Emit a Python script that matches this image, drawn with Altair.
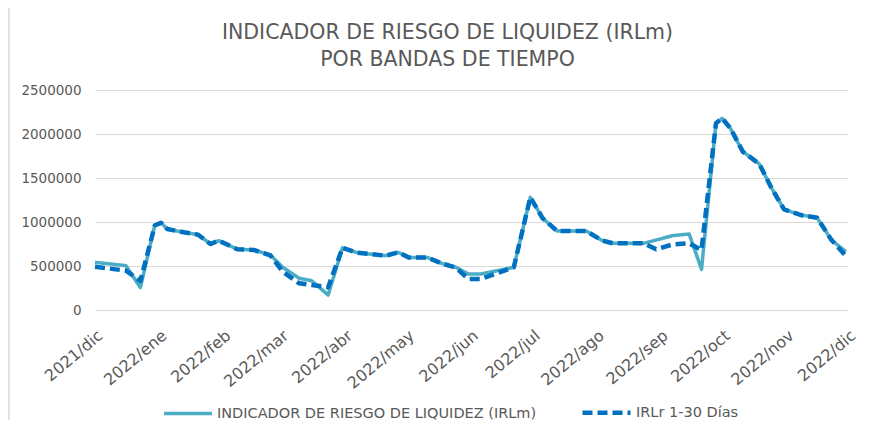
import altair as alt
import pandas as pd

DATES = [
    "2021-12-01", "2021-12-16", "2021-12-23", "2021-12-30", "2022-01-02",
    "2022-01-05", "2022-01-13", "2022-01-20", "2022-01-26", "2022-01-30",
    "2022-02-08", "2022-02-16", "2022-02-24", "2022-03-02", "2022-03-10",
    "2022-03-16", "2022-03-24", "2022-03-31", "2022-04-07", "2022-04-13",
    "2022-04-21", "2022-04-27", "2022-05-02", "2022-05-11", "2022-05-18",
    "2022-05-25", "2022-05-31", "2022-06-06", "2022-06-22", "2022-06-30",
    "2022-07-06", "2022-07-13", "2022-07-27", "2022-08-04", "2022-08-09",
    "2022-08-24", "2022-08-30", "2022-09-07", "2022-09-15", "2022-09-21",
    "2022-09-28", "2022-10-01", "2022-10-05", "2022-10-11", "2022-10-19",
    "2022-10-25", "2022-10-31", "2022-11-08", "2022-11-16", "2022-11-23",
    "2022-11-30",
]
IRLM = [
    542000, 504000, 254000, 966000, 992000,
    920000, 883000, 856000, 750000, 788000,
    690000, 682000, 625000, 485000, 360000,
    333000, 170000, 708000, 651000, 636000,
    617000, 655000, 598000, 598000, 530000,
    485000, 409000, 409000, 485000, 1280000,
    1042000, 898000, 898000, 788000, 758000,
    758000, 795000, 845000, 864000, 462000,
    2122000, 2178000, 2065000, 1800000, 1660000,
    1383000, 1144000, 1080000, 1049000, 795000,
    663000,
]
IRLR = [
    492000, 447000, 330000, 960000, 992000,
    920000, 883000, 856000, 750000, 788000,
    690000, 682000, 620000, 435000, 303000,
    284000, 258000, 708000, 651000, 636000,
    617000, 655000, 598000, 598000, 530000,
    480000, 352000, 352000, 485000, 1280000,
    1042000, 898000, 898000, 788000, 758000,
    758000, 690000, 745000, 758000, 682000,
    2122000, 2178000, 2065000, 1800000, 1660000,
    1383000, 1144000, 1080000, 1049000, 795000,
    614000,
]
SERIES = ["INDICADOR DE RIESGO DE LIQUIDEZ (IRLm)", "IRLr 1-30 Días"]
COLORS = ["#4BACC6", "#0070C0"]
TITLE = ["INDICADOR DE RIESGO DE LIQUIDEZ (IRLm)", "POR BANDAS DE TIEMPO"]
MONTHS_ES = ["ene", "feb", "mar", "abr", "may", "jun", "jul", "ago", "sep", "oct", "nov", "dic"]
TICK_MONTHS = [(2021, 12)] + [(2022, m) for m in range(1, 13)]
Y_TICKS = [0, 500000, 1000000, 1500000, 2000000, 2500000]

FONT = "DejaVu Sans"
GRAY = "#595959"
GRID = "#D9D9D9"

n = len(DATES)
df = pd.DataFrame({
    "fecha": DATES + DATES,
    "valor": IRLM + IRLR,
    "serie": [SERIES[0]] * n + [SERIES[1]] * n,
})

legend = alt.Legend(
    orient="none", legendX=67, legendY=296, direction="horizontal", title=None,
    symbolType="stroke", symbolSize=2304, symbolStrokeWidth=4,
    labelFont=FONT, labelFontSize=14.5, labelColor=GRAY, labelLimit=600,
    labelOffset=3, columnPadding=36,
)

x_enc = alt.X(
    "fecha:T",
    title=None,
    scale=alt.Scale(
        type="utc",
        domain=[alt.DateTime(year=2021, month=12, date=1, utc=True),
                alt.DateTime(year=2022, month=12, date=1, utc=True)],
    ),
    axis=alt.Axis(
        values=[alt.DateTime(year=y, month=m, date=1, utc=True) for y, m in TICK_MONTHS],
        labelExpr="utcFormat(datum.value, '%Y') + '/' + " + repr(MONTHS_ES) + "[utcmonth(datum.value)]",
        labelAngle=320, labelAlign="right", labelBaseline="top",
        labelPadding=17, labelOffset=0,
        labelFont=FONT, labelFontSize=16, labelColor=GRAY,
        domain=False, ticks=False, grid=False, labelOverlap=False, labelBound=False,
    ),
)
y_enc = alt.Y(
    "valor:Q",
    title=None,
    scale=alt.Scale(domain=[0, 2500000], nice=False),
    axis=alt.Axis(
        values=Y_TICKS, format="d", labelFont=FONT, labelFontSize=13.5, labelColor=GRAY,
        labelPadding=14, domain=False, ticks=False, grid=True, gridColor=GRID, gridWidth=1.2,
    ),
)
color_enc = alt.Color("serie:N", scale=alt.Scale(domain=SERIES, range=COLORS), legend=legend, sort=SERIES)
dash_enc = alt.StrokeDash("serie:N", scale=alt.Scale(domain=SERIES, range=[[1, 0], [10, 5]]), legend=legend, sort=SERIES)
width_enc = alt.StrokeWidth("serie:N", scale=alt.Scale(domain=SERIES, range=[3.5, 4.5]), legend=None)

base = alt.Chart(df).encode(x=x_enc, y=y_enc, color=color_enc, strokeDash=dash_enc, strokeWidth=width_enc)
line1 = base.transform_filter(alt.datum.serie == SERIES[0]).mark_line(strokeJoin="round")
line2 = base.transform_filter(alt.datum.serie == SERIES[1]).mark_line(strokeJoin="round", strokeCap="butt")

frame = alt.Data(values=[{"k": 1}])
border_left = alt.Chart(frame).mark_rule(color=GRID, strokeWidth=1.5).encode(
    x=alt.value(-86), y=alt.value(-82), y2=alt.value(330))

chart = alt.layer(border_left, line1, line2).properties(
    width=753,
    height=220,
    autosize=alt.AutoSizeParams(type="none"),
    padding={"left": 87, "top": 82, "right": 12, "bottom": 110},
    title=alt.TitleParams(
        text=TITLE, font=FONT, fontSize=20.5, fontWeight="normal", color=GRAY,
        anchor="middle", dx=-24, offset=-63, lineHeight=27,
    ),
    background="white",
).configure_view(stroke=None)

chart.save("out.html", embed_options={"renderer": "svg", "actions": False})
